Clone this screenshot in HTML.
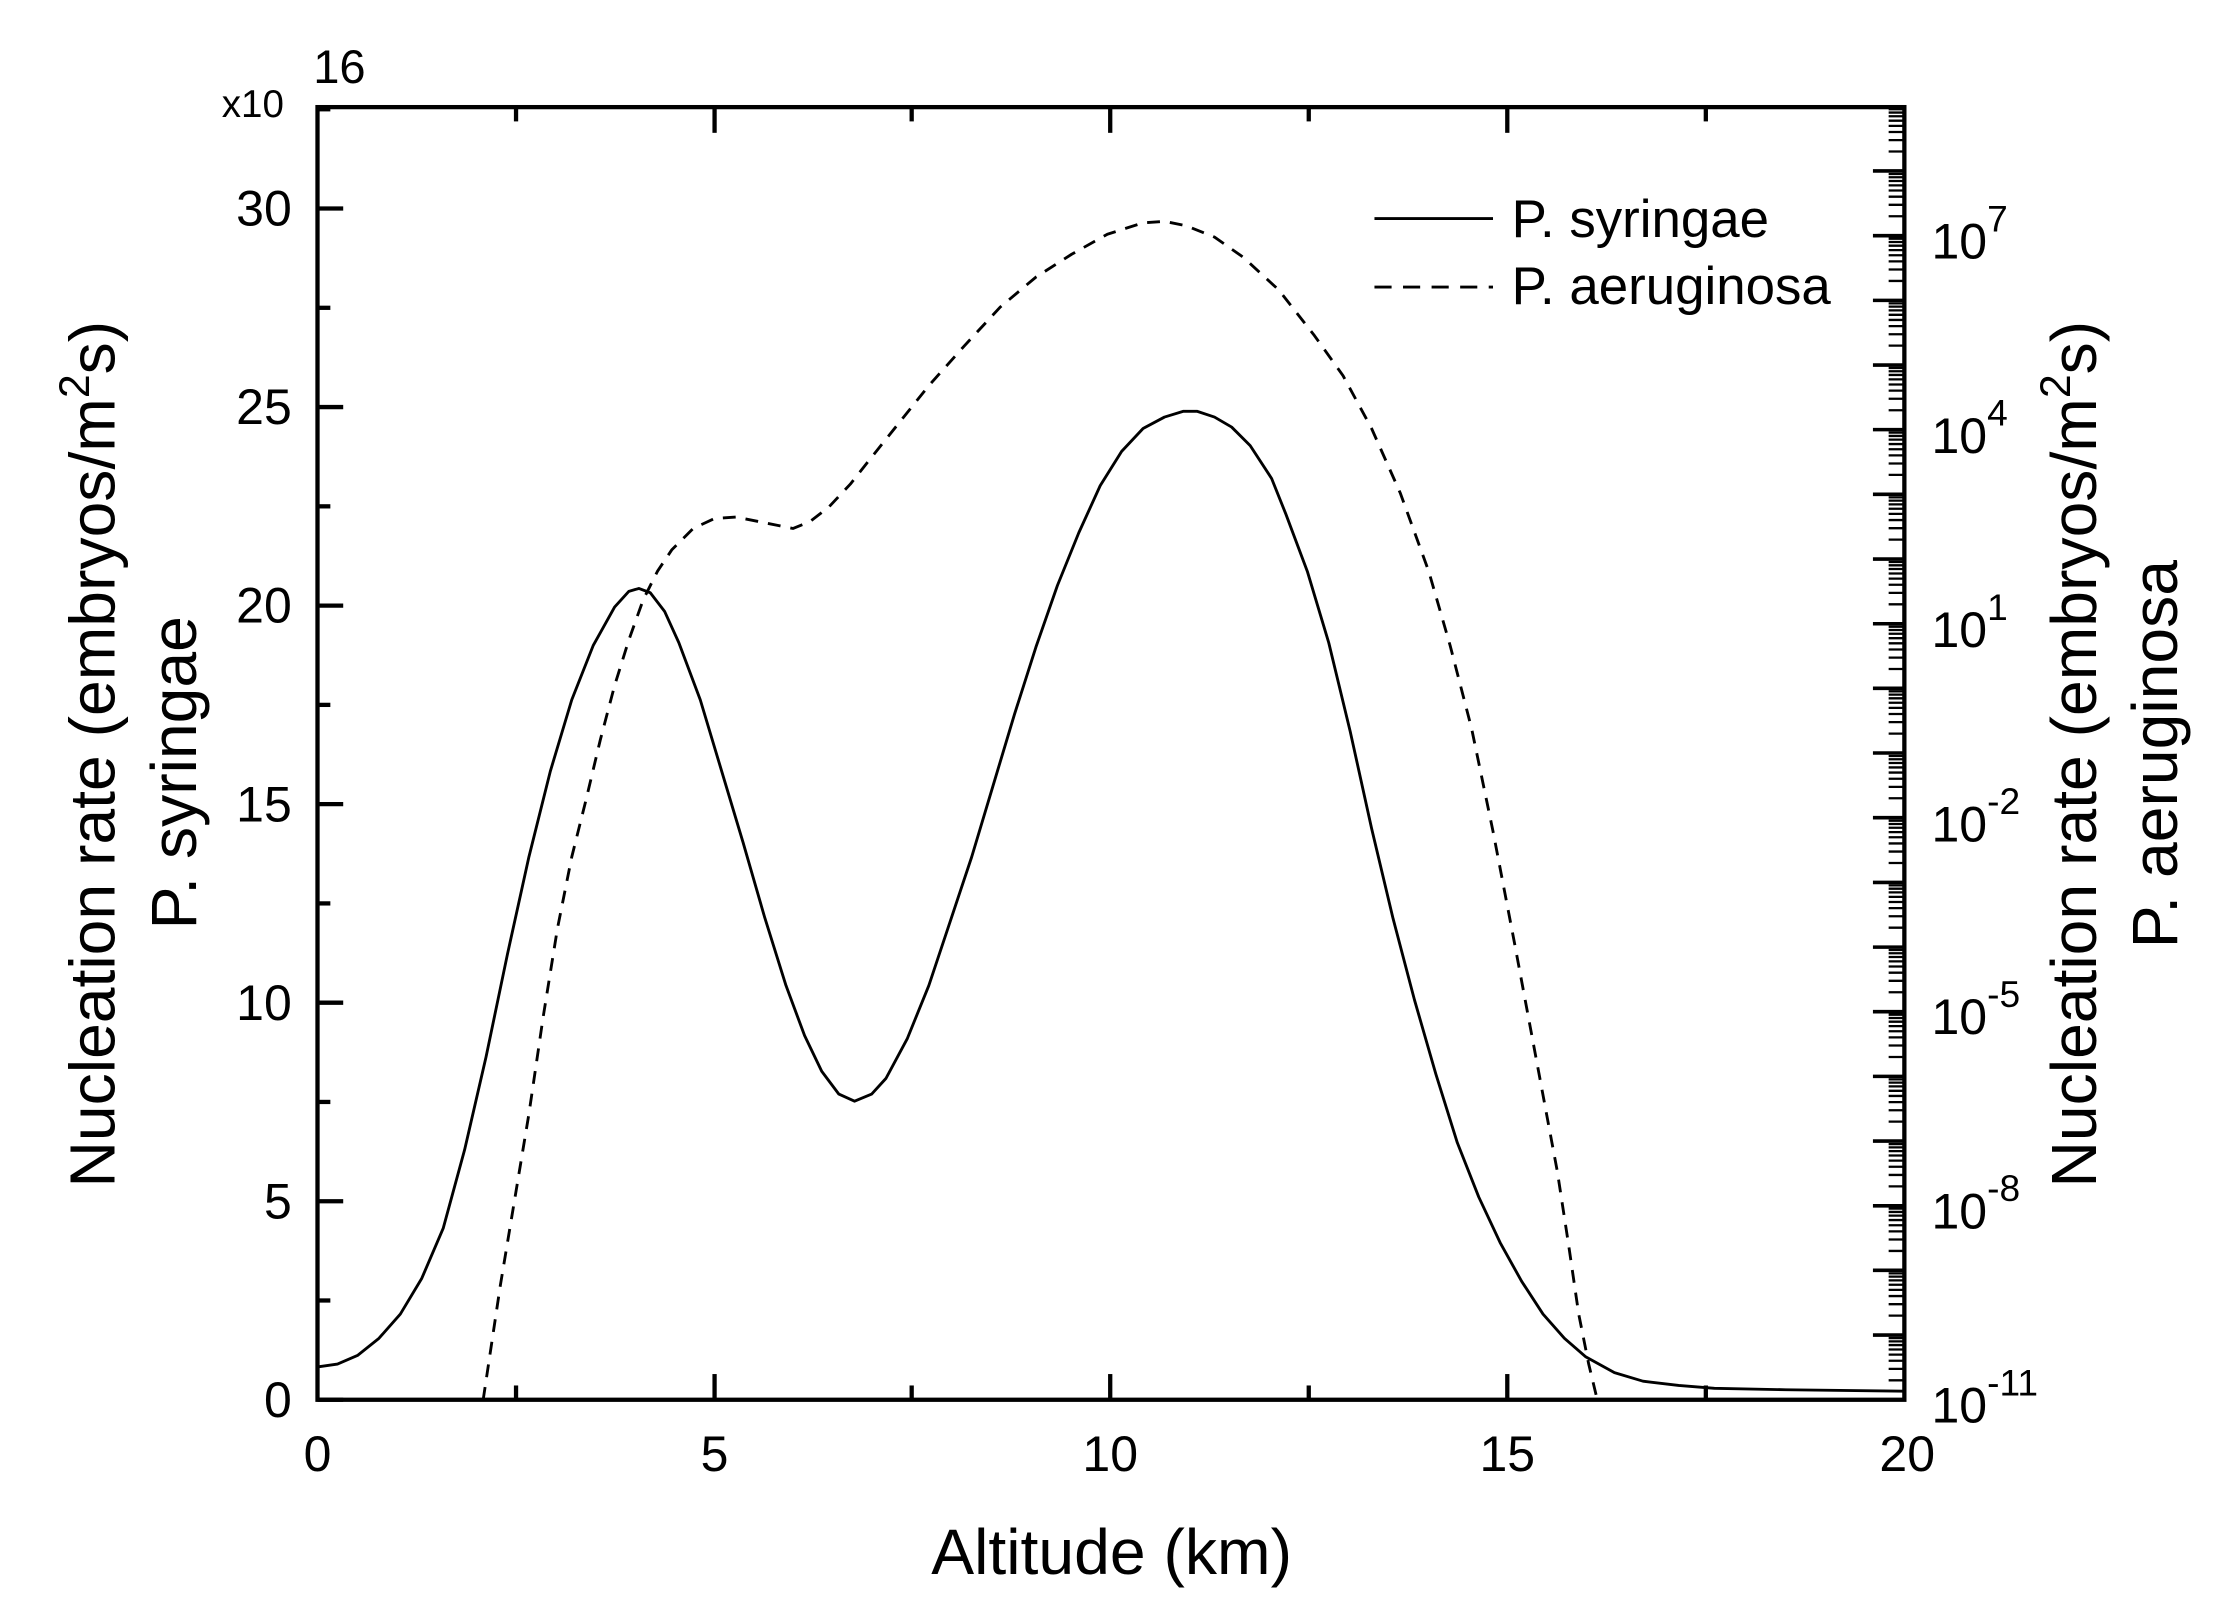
<!DOCTYPE html>
<html><head><meta charset="utf-8"><style>
html,body{margin:0;padding:0;background:#fff}
svg{display:block}
text{font-family:"Liberation Sans",Arial,sans-serif;fill:#000}
</style></head><body>
<svg width="2239" height="1619" viewBox="0 0 1567 1133.5" xmlns="http://www.w3.org/2000/svg">
<rect x="0" y="0" width="1567" height="1133.5" fill="#fff"/>
<polyline fill="none" stroke="#000" stroke-width="2" stroke-linejoin="round"
points="222,957 236,955 250,949 265,937 280,920 295,895 310,860 325,805 340,740 355,668 370,600 385,540 400,490 415,452 430,425 440,414 447,412 455,415 465,428 475,450 490,490 505,540 520,590 535,642 550,690 563,725 575,750 587,766 598,771 610,766 620,755 635,727 650,690 665,645 680,600 695,550 710,500 725,453 740,410 755,373 770,340 785,316 800,300 815,292 828,288 838,288 850,292 862,299 875,312 890,335 900,360 915,400 930,450 945,512 960,580 975,643 990,700 1005,752 1020,800 1035,838 1050,870 1065,897 1080,920 1095,937 1110,950 1130,961 1150,967 1175,970 1200,972 1250,973 1333,974"/>
<polyline fill="none" stroke="#000" stroke-width="2" stroke-dasharray="9,7" stroke-linejoin="round"
points="338,980 344,940 350,900 360,840 370,780 380,712 390,650 400,600 410,560 420,518 430,480 440,448 450,420 460,400 470,385 485,370 500,363 515,362 530,365 545,368 555,370 567,365 580,355 595,339 610,320 630,295 650,270 675,242 700,215 725,194 750,178 775,164 800,156 815,155 830,158 850,166 870,180 895,203 920,235 940,263 960,300 980,345 1000,400 1015,452 1030,510 1045,582 1060,660 1075,740 1090,820 1098,872 1105,920 1112,955 1118,980"/>
<rect x="222" y="75" width="1111" height="905" fill="none" stroke="#000" stroke-width="3"/>
<g stroke="#000" stroke-width="3">
<line x1="222" y1="980" x2="240" y2="980"/><line x1="222" y1="841" x2="240" y2="841"/>
<line x1="222" y1="702" x2="240" y2="702"/><line x1="222" y1="563" x2="240" y2="563"/>
<line x1="222" y1="424" x2="240" y2="424"/><line x1="222" y1="285" x2="240" y2="285"/>
<line x1="222" y1="146" x2="240" y2="146"/>
<line x1="222" y1="910.5" x2="231" y2="910.5"/><line x1="222" y1="771.5" x2="231" y2="771.5"/>
<line x1="222" y1="632.5" x2="231" y2="632.5"/><line x1="222" y1="493.5" x2="231" y2="493.5"/>
<line x1="222" y1="354.5" x2="231" y2="354.5"/><line x1="222" y1="215.5" x2="231" y2="215.5"/>
<line x1="222" y1="76.5" x2="231" y2="76.5"/>
<line x1="500" y1="980" x2="500" y2="962"/><line x1="777" y1="980" x2="777" y2="962"/>
<line x1="1055" y1="980" x2="1055" y2="962"/>
<line x1="361" y1="980" x2="361" y2="970"/><line x1="638" y1="980" x2="638" y2="970"/>
<line x1="916" y1="980" x2="916" y2="970"/><line x1="1194" y1="980" x2="1194" y2="970"/>
<line x1="500" y1="75" x2="500" y2="93"/><line x1="777" y1="75" x2="777" y2="93"/>
<line x1="1055" y1="75" x2="1055" y2="93"/>
<line x1="361" y1="75" x2="361" y2="85"/><line x1="638" y1="75" x2="638" y2="85"/>
<line x1="916" y1="75" x2="916" y2="85"/><line x1="1194" y1="75" x2="1194" y2="85"/>
</g>
<g stroke="#000" stroke-width="2.5">
<line x1="1333" y1="980" x2="1311" y2="980"/>
<line x1="1333" y1="934.7" x2="1311" y2="934.7"/><line x1="1333" y1="889.4" x2="1311" y2="889.4"/>
<line x1="1333" y1="844.2" x2="1311" y2="844.2"/><line x1="1333" y1="798.9" x2="1311" y2="798.9"/>
<line x1="1333" y1="753.6" x2="1311" y2="753.6"/><line x1="1333" y1="708.3" x2="1311" y2="708.3"/>
<line x1="1333" y1="663.1" x2="1311" y2="663.1"/><line x1="1333" y1="617.8" x2="1311" y2="617.8"/>
<line x1="1333" y1="572.5" x2="1311" y2="572.5"/><line x1="1333" y1="527.2" x2="1311" y2="527.2"/>
<line x1="1333" y1="481.9" x2="1311" y2="481.9"/><line x1="1333" y1="436.7" x2="1311" y2="436.7"/>
<line x1="1333" y1="391.4" x2="1311" y2="391.4"/><line x1="1333" y1="346.1" x2="1311" y2="346.1"/>
<line x1="1333" y1="300.8" x2="1311" y2="300.8"/><line x1="1333" y1="255.6" x2="1311" y2="255.6"/>
<line x1="1333" y1="210.3" x2="1311" y2="210.3"/><line x1="1333" y1="165" x2="1311" y2="165"/>
<line x1="1333" y1="119.7" x2="1311" y2="119.7"/>
</g>
<path stroke="#000" stroke-width="1.6" fill="none" d="
M1333,966.4h-11M1333,958.4h-11M1333,952.7h-11M1333,948.4h-11M1333,944.8h-11M1333,941.7h-11M1333,939.1h-11M1333,936.8h-11
M1333,921.1h-11M1333,913.1h-11M1333,907.4h-11M1333,903.1h-11M1333,899.5h-11M1333,896.4h-11M1333,893.8h-11M1333,891.5h-11
M1333,875.8h-11M1333,867.8h-11M1333,862.1h-11M1333,857.8h-11M1333,854.2h-11M1333,851.1h-11M1333,848.5h-11M1333,846.2h-11
M1333,830.6h-11M1333,822.6h-11M1333,816.9h-11M1333,812.6h-11M1333,809.0h-11M1333,805.9h-11M1333,803.3h-11M1333,801.0h-11
M1333,785.3h-11M1333,777.3h-11M1333,771.6h-11M1333,767.3h-11M1333,763.7h-11M1333,760.6h-11M1333,758.0h-11M1333,755.7h-11
M1333,740.0h-11M1333,732.0h-11M1333,726.3h-11M1333,722.0h-11M1333,718.4h-11M1333,715.3h-11M1333,712.7h-11M1333,710.4h-11
M1333,694.7h-11M1333,686.7h-11M1333,681.0h-11M1333,676.7h-11M1333,673.1h-11M1333,670.0h-11M1333,667.4h-11M1333,665.1h-11
M1333,649.5h-11M1333,641.5h-11M1333,635.8h-11M1333,631.5h-11M1333,627.9h-11M1333,624.8h-11M1333,622.2h-11M1333,619.9h-11
M1333,604.2h-11M1333,596.2h-11M1333,590.5h-11M1333,586.2h-11M1333,582.6h-11M1333,579.5h-11M1333,576.9h-11M1333,574.6h-11
M1333,558.9h-11M1333,550.9h-11M1333,545.2h-11M1333,540.9h-11M1333,537.3h-11M1333,534.2h-11M1333,531.6h-11M1333,529.3h-11
M1333,513.6h-11M1333,505.6h-11M1333,499.9h-11M1333,495.6h-11M1333,492.0h-11M1333,488.9h-11M1333,486.3h-11M1333,484.0h-11
M1333,468.4h-11M1333,460.4h-11M1333,454.7h-11M1333,450.4h-11M1333,446.8h-11M1333,443.7h-11M1333,441.1h-11M1333,438.8h-11
M1333,423.1h-11M1333,415.1h-11M1333,409.4h-11M1333,405.1h-11M1333,401.5h-11M1333,398.4h-11M1333,395.8h-11M1333,393.5h-11
M1333,377.8h-11M1333,369.8h-11M1333,364.1h-11M1333,359.8h-11M1333,356.2h-11M1333,353.1h-11M1333,350.5h-11M1333,348.2h-11
M1333,332.5h-11M1333,324.5h-11M1333,318.8h-11M1333,314.5h-11M1333,310.9h-11M1333,307.8h-11M1333,305.2h-11M1333,302.9h-11
M1333,287.2h-11M1333,279.2h-11M1333,273.5h-11M1333,269.2h-11M1333,265.6h-11M1333,262.5h-11M1333,259.9h-11M1333,257.6h-11
M1333,242.0h-11M1333,234.0h-11M1333,228.3h-11M1333,224.0h-11M1333,220.4h-11M1333,217.3h-11M1333,214.7h-11M1333,212.4h-11
M1333,196.7h-11M1333,188.7h-11M1333,183.0h-11M1333,178.7h-11M1333,175.1h-11M1333,172.0h-11M1333,169.4h-11M1333,167.1h-11
M1333,151.4h-11M1333,143.4h-11M1333,137.7h-11M1333,133.4h-11M1333,129.8h-11M1333,126.7h-11M1333,124.1h-11M1333,121.8h-11
M1333,106.1h-11M1333,98.1h-11M1333,92.4h-11M1333,88.1h-11M1333,84.5h-11M1333,81.4h-11M1333,78.8h-11M1333,76.5h-11"/>
<g font-size="35" text-anchor="end">
<text x="204" y="992">0</text><text x="204" y="853">5</text>
<text x="204" y="714">10</text><text x="204" y="575">15</text>
<text x="204" y="436">20</text><text x="204" y="297">25</text>
<text x="204" y="158">30</text>
</g>
<text x="155" y="82" font-size="27">x10</text>
<text x="219" y="58" font-size="33">16</text>
<g font-size="35" text-anchor="middle">
<text x="222" y="1030">0</text><text x="500" y="1030">5</text>
<text x="777" y="1030">10</text><text x="1055" y="1030">15</text>
<text x="1335" y="1030">20</text>
</g>
<text x="778" y="1102" font-size="45" text-anchor="middle">Altitude (km)</text>
<g font-size="35">
<text x="1352" y="181">10<tspan font-size="26" dy="-19">7</tspan></text>
<text x="1352" y="317">10<tspan font-size="26" dy="-19">4</tspan></text>
<text x="1352" y="453">10<tspan font-size="26" dy="-19">1</tspan></text>
<text x="1352" y="589">10<tspan font-size="26" dy="-19">-2</tspan></text>
<text x="1352" y="724">10<tspan font-size="26" dy="-19">-5</tspan></text>
<text x="1352" y="860">10<tspan font-size="26" dy="-19">-8</tspan></text>
<text x="1352" y="996">10<tspan font-size="26" dy="-19">-11</tspan></text>
</g>
<text transform="translate(80,528) rotate(-90)" font-size="45" text-anchor="middle">Nucleation rate (embryos/m<tspan font-size="30" dy="-18">2</tspan><tspan dy="18">s)</tspan></text>
<text transform="translate(137,541) rotate(-90)" font-size="45" text-anchor="middle">P. syringae</text>
<text transform="translate(1467,528) rotate(-90)" font-size="45" text-anchor="middle">Nucleation rate (embryos/m<tspan font-size="30" dy="-18">2</tspan><tspan dy="18">s)</tspan></text>
<text transform="translate(1524,528) rotate(-90)" font-size="45" text-anchor="middle">P. aeruginosa</text>
<line x1="962" y1="153" x2="1045" y2="153" stroke="#000" stroke-width="2"/>
<line x1="962" y1="201" x2="1045" y2="201" stroke="#000" stroke-width="2" stroke-dasharray="12,8"/>
<text x="1058" y="166" font-size="37">P. syringae</text>
<text x="1058" y="213" font-size="37">P. aeruginosa</text>
</svg>
</body></html>
